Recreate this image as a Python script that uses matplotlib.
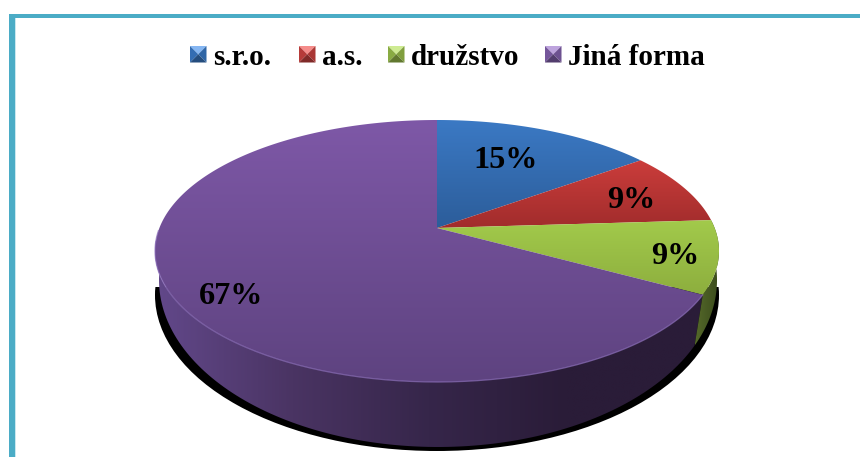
import numpy as np
import matplotlib
matplotlib.use("Agg")
import matplotlib.pyplot as plt
from matplotlib.colors import LinearSegmentedColormap, to_rgb
from matplotlib.patches import Polygon, Rectangle, Ellipse

plt.rcParams["font.family"] = ["Liberation Serif", "DejaVu Serif"]

categories = ["s.r.o.", "a.s.", "družstvo", "Jiná forma"]
values = [15, 9, 9, 67]

face_top = ["#3b79c4", "#cb3d3b", "#a2ca4b", "#7e58a7"]
face_bot = ["#2c5d9a", "#a12c2c", "#8dae3e", "#5e4380"]
side_cols = [None, None, ["#55692a", "#3a4a1c"], ["#62488a", "#4a3463", "#36264a", "#2a1c38", "#2a1c38"]]
legend_cols = ["#3a7ccb", "#cf4341", "#9cc24c", "#8563b0"]
legend_x = [190, 299, 388, 545]
label_pos = [(506, 160), (631, 201), (675, 257), (231, 296)]


def rim(theta, cx, cy, rx, ry, k):
    # circle seen in perspective, theta clockwise from the top in degrees
    t = np.radians(theta)
    u, v = np.sin(t), np.cos(t)
    d = 1 + k * v
    x = cx + rx * np.sqrt(1 - k ** 2) * u / d
    y = cy - (ry * v + k * ry) / d
    return x, y


def top_rim(theta):
    return rim(theta, 437, 251, 282, 131, 0.1756)


def low_rim(theta):
    return rim(theta, 438, 280, 279, 167, 0.11)


def grad_fill(ax, pts, cols, vertical=True, zorder=2):
    pts = np.array(pts)
    cmap = LinearSegmentedColormap.from_list("g", cols)
    g = np.linspace(0, 1, 256)
    g = g.reshape(-1, 1) if vertical else g.reshape(1, -1)
    x0, x1 = pts[:, 0].min(), pts[:, 0].max()
    y0, y1 = pts[:, 1].min(), pts[:, 1].max()
    im = ax.imshow(g, cmap=cmap, extent=(x0, x1, y1, y0), aspect="auto",
                   origin="upper", zorder=zorder, interpolation="bilinear")
    clip = Polygon(pts, closed=True, transform=ax.transData)
    im.set_clip_path(clip)


fig = plt.figure(figsize=(8.6, 4.57), dpi=100)
ax = fig.add_axes([0, 0, 1, 1])

# frame
ax.add_patch(Rectangle((9, 14), 851, 3.5, fc="#4bacc6", ec="none", zorder=1))
ax.add_patch(Rectangle((9, 14), 5.5, 443, fc="#4bacc6", ec="none", zorder=1))
ax.add_patch(Rectangle((14.5, 17.5), 1, 440, fc="#c9e8f0", ec="none", zorder=1))

# black shadow under the pie
ax.add_patch(Ellipse((437, 295), 564, 312, fc="black", ec="none", zorder=1.5))
ax.add_patch(Rectangle((150, 120), 580, 167, fc="white", ec="none", zorder=1.6))

edges = np.cumsum([0] + values) * 3.6

# sides
for i in [3, 2]:
    th = np.linspace(edges[i], edges[i + 1], 200)
    tx, ty = top_rim(th)
    lx, ly = low_rim(th)
    pts = np.r_[np.c_[tx, ty], np.c_[lx, ly][::-1]]
    if i == 3:
        grad_fill(ax, [p for p in pts if p[1] > 240], side_cols[i], vertical=False, zorder=2)
    else:
        grad_fill(ax, pts, side_cols[i], vertical=False, zorder=2)

# top face
apex = top_rim(np.array([0.0]))[0][0], 251 - 0.1756 * 131
for i in range(4):
    th = np.linspace(edges[i], edges[i + 1], 300)
    x, y = top_rim(th)
    pts = np.r_[[apex], np.c_[x, y]]
    grad_fill(ax, pts, [face_top[i], face_bot[i]], zorder=3)

# light edge along the front of the purple slice
th = np.linspace(edges[3], edges[3] + 150, 200)
x, y = top_rim(th)
ax.plot(x, y, color="#8f72bd", lw=0.9, alpha=0.7, zorder=4)

# labels
for v, (lx, ly) in zip(values, label_pos):
    ax.text(lx, ly, "%d%%" % v, fontsize=23.2, fontweight="bold", ha="center",
            va="center", color="black", zorder=5)

# legend with bevelled squares
for name, x0, col in zip(categories, legend_x, legend_cols):
    c = np.array(to_rgb(col))
    y0, s = 46, 16.5
    mid = (x0 + s / 2, y0 + s / 2)
    light = np.clip(c * 0.75 + 0.35, 0, 1)
    dark = c * 0.62
    ax.add_patch(Polygon([(x0, y0), (x0 + s, y0), mid], fc=light, ec="none", zorder=5))
    ax.add_patch(Polygon([(x0, y0), (x0, y0 + s), mid], fc=c * 0.88, ec="none", zorder=5))
    ax.add_patch(Polygon([(x0 + s, y0), (x0 + s, y0 + s), mid], fc=c * 0.82, ec="none", zorder=5))
    ax.add_patch(Polygon([(x0, y0 + s), (x0 + s, y0 + s), mid], fc=dark, ec="none", zorder=5))
    ax.text(x0 + 23, 65, name, fontsize=21, fontweight="bold", ha="left",
            va="baseline", color="black", zorder=5)

ax.set_xlim(0, 860)
ax.set_ylim(457, 0)
ax.axis("off")
fig.savefig("out.png", dpi=100, facecolor="w")
